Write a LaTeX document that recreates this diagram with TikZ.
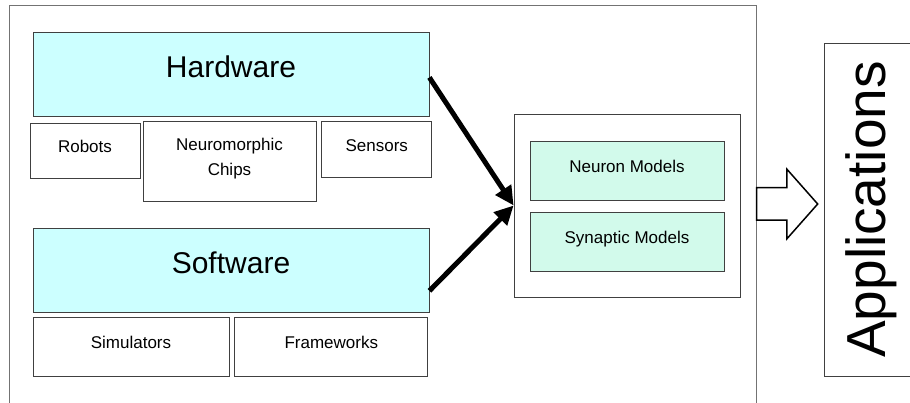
\documentclass[tikz,border=0pt]{standalone}
\usepackage{fontspec}
\setmainfont{Liberation Sans}
\usetikzlibrary{positioning, shapes.arrows, arrows.meta}
\definecolor{hw-cyan}{RGB}{204,255,255}
\definecolor{model-green}{RGB}{210,250,235}

\begin{document}
\begin{tikzpicture}
    [x=1pt, y=-1pt,
    rect/.style = {rectangle, draw=black!75, line width=0.8pt, align=center,
            inner sep=0pt, font=\fontsize{17}{25}\selectfont, text depth=9pt},
    big/.style = {rect, fill=hw-cyan, minimum width=396pt, minimum height=84pt,
            font=\fontsize{30}{36}\selectfont, text height=21.9pt, text depth=15.5pt},
    model/.style = {rect, fill=model-green, minimum width=194pt, minimum height=59pt},
    flow/.style = {line width=5pt, -{Triangle[length=19pt, width=18pt]}},
    ]
    \useasboundingbox (0,0) rectangle (910,403);
    
    \node[rect, draw=black!55, line width=1.2pt, minimum width=747.5pt, minimum height=430pt, anchor=north west] (frame) at (8.5,5) {};
    
    
    \node[big] (hardware) at (231,74) {Hardware};
    
    \node[rect, minimum width=110pt, minimum height=55pt, below right=7pt and -3pt of hardware.south west] (robots) {Robots};
    \node[rect, minimum width=173pt, minimum height=80pt, below right=5pt and 110pt of hardware.south west] (chips) {Neuromorphic\\Chips};
    \node[rect, minimum width=110pt, minimum height=56pt, right=5pt of chips.north east, anchor=north west] (sensors) {Sensors};
    
    
    \node[big] (software) at (231,270) {Software};
    
    \node[rect, minimum width=196pt, minimum height=59pt, below right=5pt and 0pt of software.south west] (sims) {Simulators};
    \node[rect, minimum width=193pt, minimum height=59pt, right=5pt of sims] (frameworks) {Frameworks};
    
    
    \node[rect, minimum width=226pt, minimum height=183pt] (models) at (627,205.5) {};
    \node[model, below=27pt of models.north] (neuron) {Neuron Models};
    \node[model, below=12pt of neuron] (synapse) {Synaptic Models};
    
    
    \node[rect, rotate=90, minimum width=333pt, minimum height=120pt, anchor=north,
        font=\fontsize{55}{60}\selectfont, text height=40pt, text depth=38pt] (apps) at (824,209.5) {Applications};
    
    \node[single arrow, draw=black, line width=1.5pt, inner xsep=0pt, inner ysep=15.5pt,
        minimum height=61pt, single arrow head extend=18.5pt, single arrow tip angle=97] (to-apps) at (780,204) {};
    
    \draw[flow] (hardware.-1.7) to (models.west);
    \draw[flow] (software.-6) to (models.west);
\end{tikzpicture}
\end{document}
